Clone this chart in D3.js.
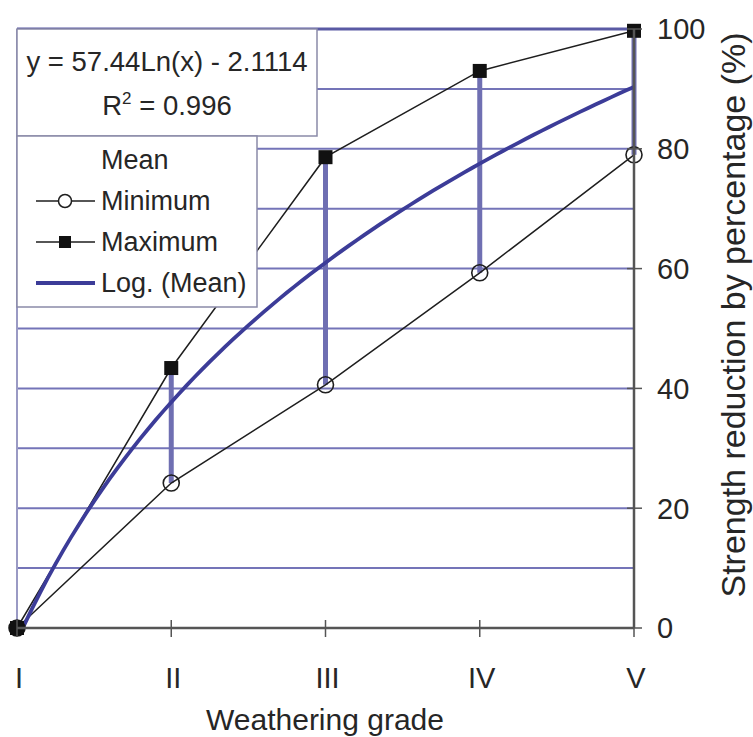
<!DOCTYPE html>
<html>
<head>
<meta charset="utf-8">
<script src="https://cdn.jsdelivr.net/npm/d3@7/dist/d3.min.js"></script>
<style>
  html, body { margin: 0; padding: 0; background: #fff; }
  svg { display: block; font-family: "Liberation Sans", Arial, sans-serif; }
</style>
</head>
<body>
<svg id="chart" width="753" height="737"></svg>
<script>
// Weathering grades and strength reduction (%)
const grades = ["I", "II", "III", "IV", "V"];
const minimum = [0, 24.2, 40.6, 59.3, 79.0];
const maximum = [0, 43.4, 78.6, 93.0, 99.7];
// Logarithmic trend fitted to the mean: y = a·ln(x) + b
const trendA = 57.44;
const trendB = -2.1114;
const trendR2 = 0.996;
const yTicks = [0, 20, 40, 60, 80, 100];
const yGrid = [10, 20, 30, 40, 50, 60, 70, 80, 90, 100];

const svg = d3.select("#chart");
const plotL = 17, plotR = 634, plotT = 29, plotB = 628;

const x = d3.scaleLinear().domain([1, grades.length]).range([plotL, plotR]);
const y = d3.scaleLinear().domain([0, 100]).range([plotB, plotT]);

const gridColor = "#7474b8";
const hiloColor = "#6f6fb2";
const trendColor = "#3c3c98";
const ink = "#1e1e1e";
const textColor = "#262626";

svg.append("defs").append("clipPath").attr("id", "plot")
  .append("rect").attr("x", plotL).attr("y", plotT - 10)
  .attr("width", plotR - plotL + 10).attr("height", plotB - plotT + 10);

// horizontal gridlines
svg.append("g").selectAll("line").data(yGrid).join("line")
  .attr("x1", plotL).attr("x2", plotR)
  .attr("y1", d => y(d)).attr("y2", d => y(d))
  .attr("stroke", d => d === 100 ? "#5a5aa4" : gridColor)
  .attr("stroke-width", d => d === 100 ? 3 : 2);

// left frame
svg.append("line").attr("x1", plotL).attr("x2", plotL)
  .attr("y1", y(100)).attr("y2", y(0))
  .attr("stroke", "#9a9ac4").attr("stroke-width", 2);

// high-low lines between minimum and maximum
svg.append("g").selectAll("line").data(grades).join("line")
  .attr("x1", (d, i) => x(i + 1)).attr("x2", (d, i) => x(i + 1))
  .attr("y1", (d, i) => y(minimum[i])).attr("y2", (d, i) => y(maximum[i]))
  .attr("stroke", hiloColor).attr("stroke-width", 5);

const line = d3.line().x((d, i) => x(i + 1)).y(d => y(d));

svg.append("path").datum(minimum).attr("d", line)
  .attr("fill", "none").attr("stroke", ink).attr("stroke-width", 1.5);
svg.append("path").datum(maximum).attr("d", line)
  .attr("fill", "none").attr("stroke", ink).attr("stroke-width", 1.5);

// logarithmic trend curve
const trendPts = d3.range(1, grades.length + 0.0001, 0.05);
svg.append("path")
  .datum(trendPts)
  .attr("clip-path", "url(#plot)")
  .attr("d", d3.line().x(d => x(d)).y(d => y(trendA * Math.log(d) + trendB)))
  .attr("fill", "none").attr("stroke", trendColor).attr("stroke-width", 3.8);

// markers
svg.append("g").selectAll("circle").data(minimum).join("circle")
  .attr("cx", (d, i) => x(i + 1)).attr("cy", d => y(d)).attr("r", 8)
  .attr("fill", "none").attr("stroke", ink).attr("stroke-width", 1.6);
svg.append("g").selectAll("rect").data(maximum).join("rect")
  .attr("x", (d, i) => x(i + 1) - 7).attr("y", d => y(d) - 7)
  .attr("width", 14).attr("height", 14).attr("fill", "#111");
// common origin point
svg.append("circle").attr("cx", x(1)).attr("cy", y(0)).attr("r", 8).attr("fill", "#111");

// right value axis
const yAxis = svg.append("g").attr("transform", `translate(${plotR},0)`);
yAxis.append("line").attr("x1", 0).attr("x2", 0).attr("y1", y(100)).attr("y2", y(0))
  .attr("stroke", "#555").attr("stroke-width", 2.5);
yAxis.selectAll("line.tick").data(yTicks).join("line").attr("class", "tick")
  .attr("x1", -7).attr("x2", 8).attr("y1", d => y(d)).attr("y2", d => y(d))
  .attr("stroke", "#555").attr("stroke-width", 1.5);
yAxis.selectAll("text").data(yTicks).join("text")
  .attr("x", 23).attr("y", d => y(d)).attr("dy", "0.36em")
  .attr("font-size", 29).attr("fill", textColor).text(d => d);

// bottom category axis
const xAxis = svg.append("g");
xAxis.append("line").attr("x1", plotL).attr("x2", plotR).attr("y1", plotB).attr("y2", plotB)
  .attr("stroke", "#555").attr("stroke-width", 2.5);
xAxis.selectAll("line.tick").data(grades).join("line").attr("class", "tick")
  .attr("x1", (d, i) => x(i + 1)).attr("x2", (d, i) => x(i + 1))
  .attr("y1", plotB - 8).attr("y2", plotB + 9)
  .attr("stroke", "#555").attr("stroke-width", 1.5);
xAxis.selectAll("text").data(grades).join("text")
  .attr("x", (d, i) => x(i + 1) + 2).attr("y", 688)
  .attr("text-anchor", "middle").attr("font-size", 29).attr("fill", textColor)
  .text(d => d);

svg.append("text").attr("x", 325).attr("y", 730).attr("text-anchor", "middle")
  .attr("font-size", 30).attr("fill", textColor).text("Weathering grade");
svg.append("text")
  .attr("transform", "translate(745,315) rotate(-90)")
  .attr("text-anchor", "middle").attr("font-size", 34).attr("fill", textColor)
  .text("Strength reduction by percentage (%)");

// trendline equation box
svg.append("rect").attr("x", plotL).attr("y", plotT).attr("width", 300).attr("height", 107)
  .attr("fill", "#fff").attr("stroke", "#8a8aa8").attr("stroke-width", 1.5);
svg.append("text").attr("x", 167).attr("y", 71).attr("text-anchor", "middle")
  .attr("font-size", 27.5).attr("fill", textColor)
  .text(`y = ${trendA}Ln(x) - ${Math.abs(trendB)}`);
const r2 = svg.append("text").attr("x", 167).attr("y", 115).attr("text-anchor", "middle")
  .attr("font-size", 27.5).attr("fill", textColor);
r2.append("tspan").text("R");
r2.append("tspan").attr("dy", -11).attr("font-size", 17).text("2");
r2.append("tspan").attr("dy", 11).text(` = ${trendR2}`);

// legend
const legendItems = [
  { name: "Mean", kind: "none" },
  { name: "Minimum", kind: "circle" },
  { name: "Maximum", kind: "square" },
  { name: "Log. (Mean)", kind: "trend" }
];
svg.append("rect").attr("x", plotL).attr("y", 136).attr("width", 240).attr("height", 171)
  .attr("fill", "#fff").attr("stroke", "#8a8aa8").attr("stroke-width", 1.5);
const lg = svg.append("g").selectAll("g").data(legendItems).join("g")
  .attr("transform", (d, i) => `translate(0,${169 + i * 41})`);
lg.append("text").attr("x", 101).attr("y", 0).attr("font-size", 27).attr("fill", textColor)
  .text(d => d.name);
lg.filter(d => d.kind === "circle" || d.kind === "square").append("line")
  .attr("x1", 36).attr("x2", 95).attr("y1", -9).attr("y2", -9)
  .attr("stroke", ink).attr("stroke-width", 1.5);
lg.filter(d => d.kind === "circle").append("circle")
  .attr("cx", 65).attr("cy", -9).attr("r", 6.5)
  .attr("fill", "#fff").attr("stroke", ink).attr("stroke-width", 1.5);
lg.filter(d => d.kind === "square").append("rect")
  .attr("x", 59).attr("y", -15).attr("width", 12).attr("height", 12).attr("fill", "#111");
lg.filter(d => d.kind === "trend").append("line")
  .attr("x1", 36).attr("x2", 95).attr("y1", -9).attr("y2", -9)
  .attr("stroke", trendColor).attr("stroke-width", 3.8);
</script>
</body>
</html>
